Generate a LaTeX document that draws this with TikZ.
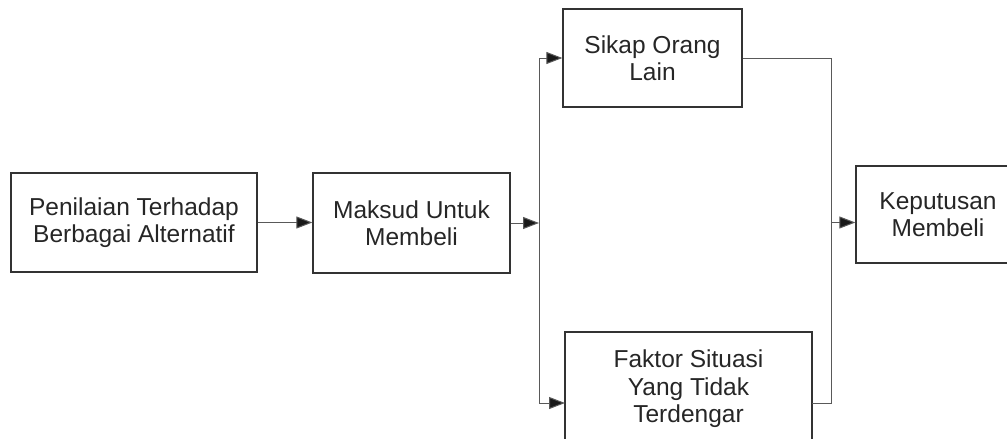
\documentclass[tikz,border=0pt]{standalone}
\usepackage{fontspec}
\setmainfont{Liberation Sans}
\usetikzlibrary{arrows.meta}
\tikzset{
  box/.style={draw=black!80, line width=1.3pt, inner sep=0pt, align=center,
    text=black!85, font=\fontsize{24.5}{27.5}\selectfont},
  conn/.style={draw=black!65, line width=1pt},
  arr/.style={conn, -{Triangle[length=16pt,width=12pt,fill=black!90]}},
}
\begin{document}
\begin{tikzpicture}[x=1pt,y=-1pt]
\useasboundingbox (0,0) rectangle (1007,439);
\clip (0,0) rectangle (1007,439);
\node[box, minimum width=246pt, minimum height=99pt] (b1) at (134,222.5) {Penilaian Terhadap\\Berbagai Alternatif};
\node[box, minimum width=197pt, minimum height=100pt] (b2) at (411.5,223) {Maksud Untuk\\Membeli};
\node[box, minimum width=179pt, minimum height=98pt] (sikap) at (652.5,58) {Sikap Orang\\Lain};
\node[box, minimum width=247pt, minimum height=114pt] (faktor) at (688.5,389) {Faktor Situasi\\Yang Tidak\\Terdengar};
\node[box, minimum width=164pt, minimum height=97pt] (kep) at (938,214.5) {Keputusan\\Membeli};
\coordinate (j1) at (539,223);
\coordinate (j2) at (831,222.5);
\coordinate (fin) at (565,403);
\coordinate (fout) at (812,403);
\draw[arr] (b1.east |- 0,222.5) -- (b2.west |- 0,222.5);
\draw[arr] (b2.east |- j1) -- (j1);
\draw[arr] (j1) |- (sikap.west);
\draw[arr] (j1) |- (fin);
\draw[conn] (sikap.east) -| (j2);
\draw[conn] (fout) -| (j2);
\draw[arr] (j2) -- (kep.west |- j2);
\end{tikzpicture}
\end{document}
